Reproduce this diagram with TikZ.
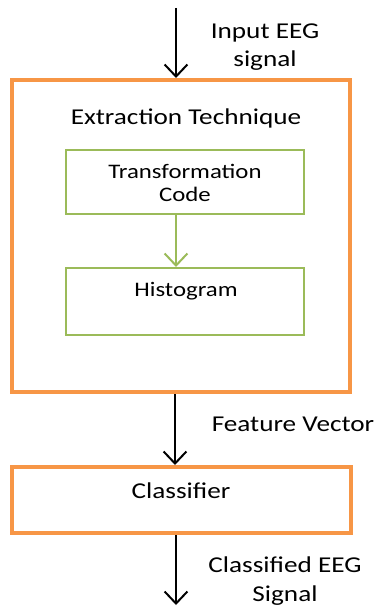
\documentclass[tikz,border=0pt]{standalone}
\usepackage{fontspec}
\setmainfont[FakeStretch=1.2]{Carlito}
\usetikzlibrary{arrows.meta}
\definecolor{boxorange}{RGB}{247,150,70}
\definecolor{boxgreen}{RGB}{155,187,89}
\begin{document}
\begin{tikzpicture}[x=0.75pt,y=-0.75pt,
  lbl/.style={font=\fontsize{17}{21.5}\selectfont, align=center, inner sep=0pt},
  ilbl/.style={font=\fontsize{15.5}{17.5}\selectfont, align=center, inner sep=0pt},
  outerbox/.style={draw=boxorange, line width=3pt},
  innerbox/.style={draw=boxgreen, line width=1.5pt},
  flow/.style={line width=1.5pt, -{Straight Barb[length=9pt,width=17pt,line width=1.5pt]}},
  gflow/.style={draw=boxgreen, line width=1.5pt, -{Straight Barb[length=9pt,width=17pt,line width=1.5pt]}}]
\useasboundingbox (0,0) rectangle (376,609);
% outer stages
\node[outerbox, minimum width=338*0.75pt, minimum height=312*0.75pt, inner sep=0pt] (ext) at (181,236) {};
\node[outerbox, minimum width=339*0.75pt, minimum height=66*0.75pt, inner sep=0pt] (cls) at (181.5,500) {};
% inner steps
\node[innerbox, minimum width=238*0.75pt, minimum height=64*0.75pt, inner sep=0pt] (tc) at (185,182) {};
\node[innerbox, minimum width=238*0.75pt, minimum height=67*0.75pt, inner sep=0pt] (hist) at (185,301.5) {};
% labels
\node[lbl] (extl) at (186,118) {Extraction Technique};
\node[ilbl] (tcl) at (185,183) {Transformation\\Code};
\node[ilbl] (histl) at (186,291) {Histogram};
\node[lbl] (clsl) at (181,491) {Classifier};
\node[lbl] (inl) at (265,47) {Input EEG\\signal};
\node[lbl] (fvl) at (293,424) {Feature Vector};
\node[lbl] (outl) at (285,581) {Classified EEG\\Signal};
% connectors
\coordinate (in) at (176,8);
\coordinate (out) at (176,605);
\draw[flow] (in) -- (in |- ext.north);
\draw[gflow] (tc.south -| 176,0) -- (hist.north -| 176,0);
\draw[flow] (ext.south -| 175,0) -- (cls.north -| 175,0);
\draw[flow] (cls.south -| out) -- (out);
\end{tikzpicture}
\end{document}
